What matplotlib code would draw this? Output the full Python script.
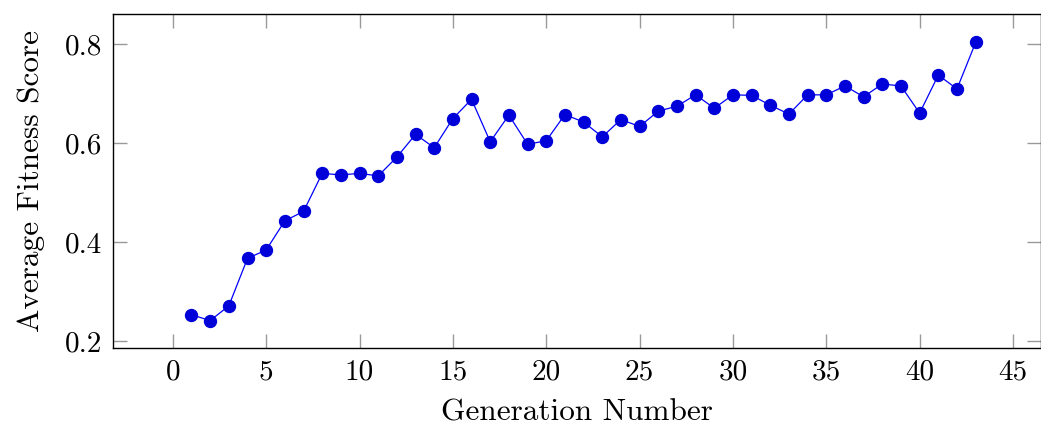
import numpy as np
import matplotlib
matplotlib.use('Agg')
import matplotlib.pyplot as plt

plt.rcParams['font.family'] = 'serif'
plt.rcParams['font.serif'] = ['cmr10']
plt.rcParams['mathtext.fontset'] = 'cm'
plt.rcParams['axes.formatter.use_mathtext'] = True

generation = np.arange(1, 44)
fitness = [0.253, 0.241, 0.271, 0.367, 0.384, 0.443, 0.462, 0.539, 0.536, 0.539,
           0.534, 0.572, 0.618, 0.591, 0.650, 0.689, 0.603, 0.657, 0.598, 0.605,
           0.658, 0.643, 0.613, 0.648, 0.634, 0.665, 0.675, 0.698, 0.671, 0.698,
           0.697, 0.677, 0.659, 0.698, 0.698, 0.716, 0.694, 0.720, 0.716, 0.661,
           0.738, 0.710, 0.804]
xticks = np.arange(0, 50, 5)
yticks = [0.2, 0.4, 0.6, 0.8]

fig = plt.figure(figsize=(10.41, 4.26), dpi=100)
ax = fig.add_axes([0.1088, 0.1824, 0.8912, 0.784])

ax.plot(generation, fitness, color='#0000ff', lw=0.9, marker='o', ms=8.6,
        mfc='#0000d9', mec='#0000d9')

ax.set_xlim(-3.19, 46.5)
ax.set_ylim(0.185, 0.861)
ax.set_xticks(xticks)
ax.set_yticks(yticks)
ax.set_xticklabels([str(t) for t in xticks])
ax.set_yticklabels([f'{t:.1f}' for t in yticks])
ax.tick_params(direction='in', length=10, width=1, color='#999999',
               top=True, right=True, labelsize=21, pad=8)
for s in ax.spines.values():
    s.set_linewidth(1)

ax.set_xlabel('Generation Number', fontsize=22.5, labelpad=9)
ax.set_ylabel('Average Fitness Score', fontsize=22.5, labelpad=14)

fig.savefig('out.png', dpi=100)
